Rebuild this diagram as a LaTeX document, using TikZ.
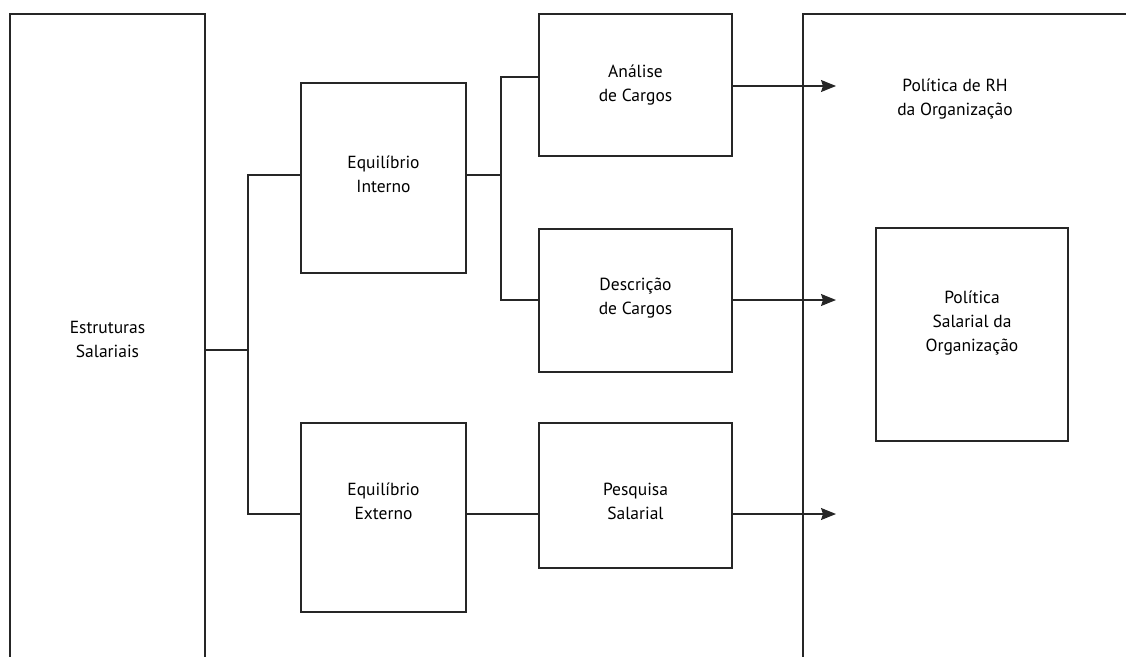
\documentclass[tikz,border=0pt]{standalone}
\usepackage{fontspec}
\setmainfont{PT Sans}
\usetikzlibrary{arrows.meta}
\begin{document}
\begin{tikzpicture}[x=1pt,y=-1pt,
  box/.style={draw=black!85,line width=1.3pt,inner sep=0pt},
  lbl/.style={inner sep=0pt,align=center,font=\fontsize{17.5}{24}\selectfont},
  ln/.style={draw=black!85,line width=1.3pt},
  arr/.style={ln,-{Stealth[length=15pt,width=12pt,inset=2pt]}}]
\useasboundingbox (0,0) rectangle (1126,656);
\begin{scope}
\clip (0,0) rectangle (1126,656);
\node[box,minimum width=195pt,minimum height=660pt] (lbox) at (107.5,344) {};
\node[box,minimum width=340pt,minimum height=690pt] (rbox) at (973,359) {};
\end{scope}
\node[box,minimum width=165pt,minimum height=190pt] (ei) at (383.5,178) {};
\node[box,minimum width=165pt,minimum height=189pt] (ee) at (383.5,517.5) {};
\node[box,minimum width=193pt,minimum height=142pt] (ac) at (635.5,85) {};
\node[box,minimum width=193pt,minimum height=143pt] (dc) at (635.5,300.5) {};
\node[box,minimum width=193pt,minimum height=145pt] (ps) at (635.5,495.5) {};
\node[box,minimum width=192pt,minimum height=213pt] (pol) at (972,334.5) {};
\node[lbl] (t1) at (107.5,339) {Estruturas\\Salariais};
\node[lbl] (t2) at (955,99) {Política de RH\\da Organização};
\node[lbl] (t3) at (383.5,174) {Equilíbrio\\Interno};
\node[lbl] (t4) at (383.5,501) {Equilíbrio\\Externo};
\node[lbl] (t5) at (635.5,85) {Análise\\de Cargos};
\node[lbl] (t6) at (635.5,298) {Descrição\\de Cargos};
\node[lbl] (t7) at (635.5,501) {Pesquisa\\Salarial};
\node[lbl] (t8) at (972,323) {Política\\Salarial da\\Organização};
\coordinate (j1) at (248,350);
\coordinate (j2) at (501,175);
\coordinate (a1) at (836,86);
\coordinate (a2) at (836,300);
\coordinate (a3) at (836,514);
\draw[ln] (lbox.east |- j1) -- (j1);
\draw[ln] (ei.west |- 0,175) -| (j1) |- (ee.west |- 0,514);
\draw[ln] (ei.east |- j2) -- (j2);
\draw[ln] (ac.west |- 0,77) -| (j2) |- (dc.west |- 0,300);
\draw[ln] (ee.east |- 0,514) -- (ps.west |- 0,514);
\draw[arr] (ac.east |- a1) -- (a1);
\draw[arr] (dc.east |- a2) -- (a2);
\draw[arr] (ps.east |- a3) -- (a3);
\end{tikzpicture}
\end{document}
